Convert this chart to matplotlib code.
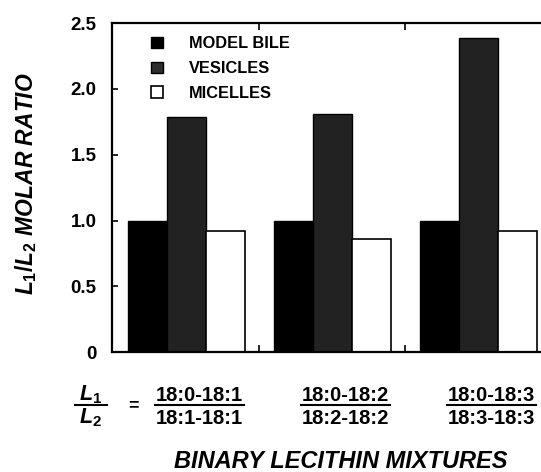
import numpy as np
import matplotlib
matplotlib.use('Agg')
import matplotlib.pyplot as plt
import matplotlib.transforms as mtransforms
from matplotlib.patches import Patch

plt.rcParams['font.family'] = 'Liberation Sans'
plt.rcParams['font.weight'] = 'bold'
plt.rcParams['mathtext.fontset'] = 'custom'
plt.rcParams['mathtext.it'] = 'Liberation Sans:italic:bold'
plt.rcParams['mathtext.rm'] = 'Liberation Sans:bold'

# 데이터
numerators = ['18:0-18:1', '18:0-18:2', '18:0-18:3']
denominators = ['18:1-18:1', '18:2-18:2', '18:3-18:3']
series_names = ['MODEL BILE', 'VESICLES', 'MICELLES']
model_bile = [1.0, 1.0, 1.0]
vesicles = [1.79, 1.81, 2.39]
micelles = [0.92, 0.86, 0.92]
y_ticks = [0, 0.5, 1.0, 1.5, 2.0, 2.5]
y_tick_labels = ['0', '0.5', '1.0', '1.5', '2.0', '2.5']

fig = plt.figure(figsize=(5.41, 4.72), dpi=100)
ax = fig.add_axes([0.207, 0.254, 0.815, 0.697])

x = np.arange(len(numerators))
w = 0.267
ax.bar(x - w, model_bile, w, color='black', edgecolor='black', linewidth=1)
ax.bar(x, vesicles, w, color='#222222', edgecolor='black', linewidth=1)
ax.bar(x + w, micelles, w, color='white', edgecolor='black', linewidth=1.2)

ax.set_xlim(-0.51, 2.51)
ax.set_ylim(0, 2.5)
ax.set_yticks(y_ticks)
ax.set_yticklabels(y_tick_labels, fontsize=13.5, fontweight='bold')
ax.set_xticks([0.5, 1.5])
ax.set_xticklabels([])
ax.tick_params(axis='y', direction='in', length=4, width=1.2, pad=11)
ax.tick_params(axis='x', direction='in', length=5, width=1.2, top=True)
for s in ['left', 'bottom', 'top']:
    ax.spines[s].set_linewidth(1.6)
ax.spines['right'].set_visible(False)

# 범례
handles = [Patch(facecolor='black', edgecolor='black'),
           Patch(facecolor='#2e2e2e', edgecolor='black'),
           Patch(facecolor='white', edgecolor='black', linewidth=1.2)]
ax.legend(handles, series_names, loc='upper left', bbox_to_anchor=(0.088, 0.96),
          frameon=False, borderpad=0, borderaxespad=0, handlelength=0.72,
          handleheight=0.72, handletextpad=1.6, labelspacing=0.6,
          prop={'size': 11.8, 'weight': 'bold'})

# 축 제목
fig.text(0.048, 0.612, r'$L_1/L_2$ MOLAR RATIO', rotation=90, ha='center',
         va='center', fontsize=16.5, fontweight='bold', style='italic')
fig.text(0.63, 0.022, 'BINARY LECITHIN MIXTURES', ha='center', va='center',
         fontsize=17, fontweight='bold', style='italic')

# 분수 라벨
tr = mtransforms.blended_transform_factory(ax.transData, fig.transFigure)
off = 0.09
for i in range(len(numerators)):
    ax.text(x[i] + off, 0.163, numerators[i], transform=tr, ha='center',
            va='center', fontsize=14.5, fontweight='bold', clip_on=False)
    ax.text(x[i] + off, 0.114, denominators[i], transform=tr, ha='center',
            va='center', fontsize=14.5, fontweight='bold', clip_on=False)
    ax.plot([x[i] + off - 0.305, x[i] + off + 0.305], [0.141, 0.141], color='black',
            linewidth=1.5, transform=tr, clip_on=False)

ax.text(-0.655, 0.163, r'$L_1$', transform=tr, ha='center', va='center',
        fontsize=15.5, clip_on=False)
ax.text(-0.655, 0.114, r'$L_2$', transform=tr, ha='center', va='center',
        fontsize=15.5, clip_on=False)
ax.plot([-0.765, -0.547], [0.141, 0.141], color='black', linewidth=1.5,
        transform=tr, clip_on=False)
ax.text(-0.366, 0.141, '=', transform=tr, ha='center', va='center',
        fontsize=13, fontweight='bold', clip_on=False)

fig.savefig('out.png', dpi=100)
